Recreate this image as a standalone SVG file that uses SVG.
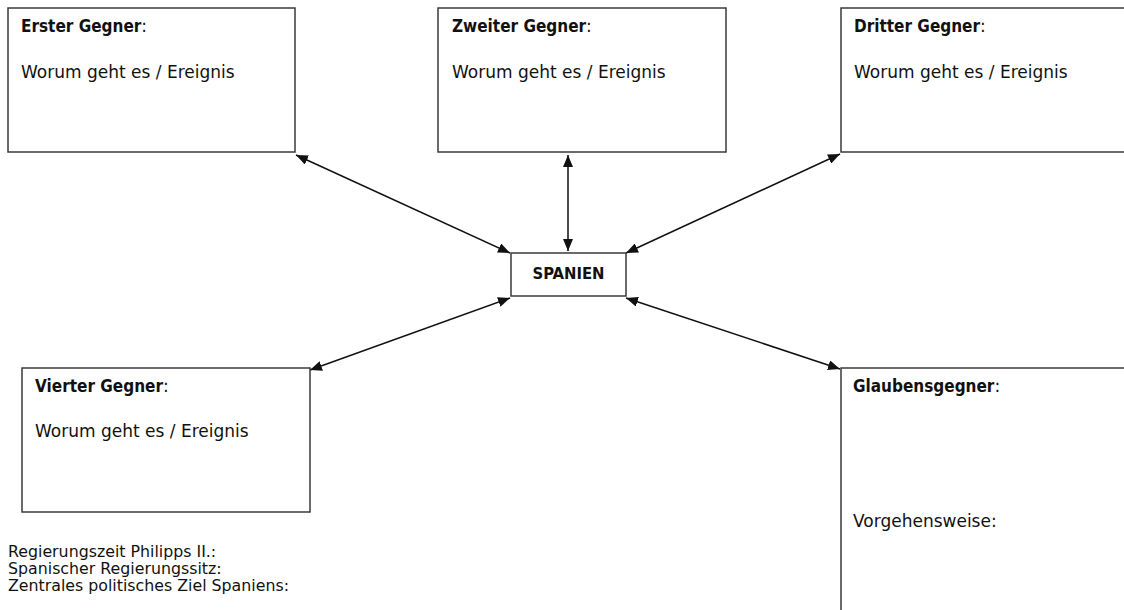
<svg xmlns="http://www.w3.org/2000/svg" width="1124" height="610" viewBox="0 0 1124 610">
<style>
.box{fill:#fff;stroke:#3a3a3a;stroke-width:1.5}
.t{font-family:"DejaVu Sans",Verdana,sans-serif;font-size:17px;fill:#111}
.h{font-family:"DejaVu Sans Condensed","DejaVu Sans",sans-serif;font-stretch:condensed;font-weight:bold}
.b{font-family:"DejaVu Sans",Verdana,sans-serif;font-size:15.8px;fill:#111}
.c{stroke:#111;stroke-width:1.5;fill:none;marker-start:url(#ah);marker-end:url(#ah)}
</style>
<defs>
<marker id="ah" markerUnits="userSpaceOnUse" markerWidth="12" markerHeight="10" refX="12" refY="5" orient="auto-start-reverse">
<path d="M0,0 L12,5 L0,10 z" fill="#111"/>
</marker>
</defs>
<rect width="1124" height="610" fill="#fff"/>
<g id="connectors">
<line class="c" x1="296" y1="155" x2="510" y2="253"/>
<line class="c" x1="568" y1="155" x2="568" y2="251"/>
<line class="c" x1="626" y1="253" x2="840" y2="154"/>
<line class="c" x1="510" y1="298" x2="310" y2="370"/>
<line class="c" x1="626" y1="298" x2="840" y2="369"/>
</g>
<g id="erster">
<rect class="box" x="8" y="8" width="287" height="144"/>
<text class="t" x="21" y="32"><tspan class="h">Erster Gegner</tspan>:</text>
<text class="t" x="21" y="78">Worum geht es / Ereignis</text>
</g>
<g id="zweiter">
<rect class="box" x="438" y="8" width="288" height="144"/>
<text class="t" x="452" y="32"><tspan class="h">Zweiter Gegner</tspan>:</text>
<text class="t" x="452" y="78">Worum geht es / Ereignis</text>
</g>
<g id="dritter">
<rect class="box" x="841" y="8" width="300" height="144"/>
<text class="t" x="854" y="32"><tspan class="h">Dritter Gegner</tspan>:</text>
<text class="t" x="854" y="78">Worum geht es / Ereignis</text>
</g>
<g id="spanien">
<rect class="box" x="511" y="253" width="115" height="43"/>
<text class="t h" x="568.5" y="279" text-anchor="middle" style="font-size:16.5px">SPANIEN</text>
</g>
<g id="vierter">
<rect class="box" x="22" y="368" width="288" height="144"/>
<text class="t" x="35" y="392"><tspan class="h">Vierter Gegner</tspan>:</text>
<text class="t" x="35" y="437">Worum geht es / Ereignis</text>
</g>
<g id="glaubensgegner">
<rect class="box" x="841" y="368" width="300" height="260"/>
<text class="t" x="853" y="392"><tspan class="h">Glaubensgegner</tspan>:</text>
<text class="t" x="853" y="527">Vorgehensweise:</text>
</g>
<g id="info">
<text class="b" x="8" y="557">Regierungszeit Philipps II.:</text>
<text class="b" x="8" y="574">Spanischer Regierungssitz:</text>
<text class="b" x="8" y="591">Zentrales politisches Ziel Spaniens:</text>
</g>
</svg>
